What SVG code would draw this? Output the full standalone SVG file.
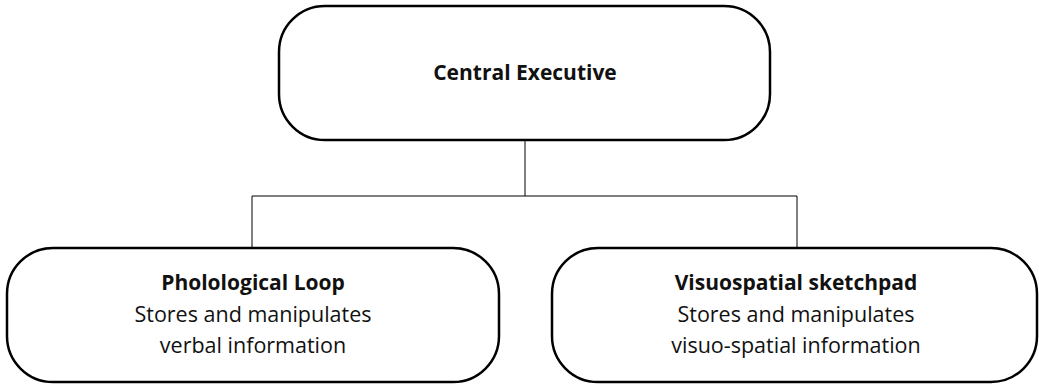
<svg xmlns="http://www.w3.org/2000/svg" width="1039" height="384" viewBox="0 0 1039 384">
<style>
.box{fill:#fff;stroke:#000;stroke-width:2.5}
.conn{fill:none;stroke:#000;stroke-width:1}
text{font-family:"Open Sans","Liberation Sans",sans-serif;font-size:21.5px;fill:#111;text-anchor:middle}
.b{font-weight:bold;font-size:21px}
</style>
<rect width="1039" height="384" fill="#fff"/>
<g id="connectors">
<path class="conn" d="M525 140 V196 M252 196 H797 M252 196 V248 M797 196 V248"/>
</g>
<g id="central">
<rect class="box" x="279" y="6" width="491" height="134" rx="46" ry="46"/>
<text class="b" x="525" y="80">Central Executive</text>
</g>
<g id="phonological">
<rect class="box" x="7" y="248" width="492" height="134" rx="46" ry="46"/>
<text class="b" x="253" y="290">Pholological Loop</text>
<text x="253" y="322">Stores and manipulates</text>
<text x="253" y="353">verbal information</text>
</g>
<g id="visuospatial">
<rect class="box" x="552" y="248" width="485" height="134" rx="46" ry="46"/>
<text class="b" x="796" y="290">Visuospatial sketchpad</text>
<text x="796" y="322">Stores and manipulates</text>
<text x="796" y="353">visuo-spatial information</text>
</g>
</svg>
